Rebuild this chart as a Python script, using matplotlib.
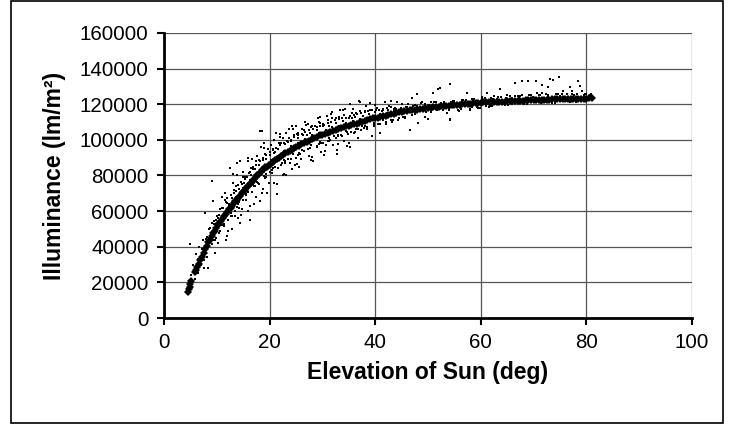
import matplotlib
matplotlib.use("Agg")
import matplotlib.pyplot as plt
from matplotlib.patches import Rectangle

plt.rcParams['font.family'] = ['Liberation Sans', 'DejaVu Sans']

# fitted curve (diamond markers)
curve_x = [4.5, 4.7, 4.9, 5.0, 5.2,
           5.8, 6.0, 6.3, 6.6, 6.9, 7.2, 7.5, 7.8, 8.1, 8.4, 8.7, 9.0, 9.3, 9.6, 9.9,
           10.2, 10.5, 10.8, 11.1, 11.4, 11.7, 12.0, 12.3, 12.6, 12.9, 13.2, 13.5,
           13.8, 14.1, 14.4, 14.7, 15.0, 15.3, 15.6, 15.9, 16.2, 16.5, 16.8, 17.1,
           17.4, 17.7, 18.0, 18.3, 18.6, 18.9, 19.2, 19.5, 19.8,
           20.2, 20.6, 21.0, 21.4, 21.8, 22.2, 22.6, 23.0, 23.4, 23.8, 24.2, 24.6,
           25.0, 25.5, 26.0, 26.5, 27.0, 27.5, 28.0, 28.5, 29.0, 29.5, 30.0, 30.5,
           31.0, 31.5, 32.0, 32.5, 33.0, 33.5, 34.0, 34.5, 35.0, 35.5, 36.0, 36.5,
           37.0, 37.5, 38.0, 38.5, 39.0, 39.5, 40.0, 40.5, 41.0, 41.5, 42.0, 42.5,
           43.0, 43.5, 44.0, 44.5, 45.0, 45.5, 46.0, 46.5, 47.0, 47.5, 48.0, 48.5,
           49.0, 49.5, 50.0, 50.5, 51.0, 51.5, 52.0, 52.5, 53.0, 53.5, 54.0, 54.5,
           55.0, 55.5, 56.0, 56.5, 57.0, 57.5, 58.0, 58.5, 59.0, 59.5, 60.0, 60.5,
           61.0, 61.5, 62.0, 62.5, 63.0, 63.5, 64.0, 64.5, 65.0, 65.5, 66.0, 66.5,
           67.0, 67.5, 68.0, 68.5, 69.0, 69.5, 70.0, 70.5, 71.0, 71.5, 72.0, 72.5,
           73.0, 73.5, 74.0, 74.5, 75.0, 75.5, 76.0, 76.5, 77.0, 77.5, 78.0, 78.5,
           79.0, 79.5, 80.0, 80.5, 81.0]
curve_y = [14500, 16000, 17500, 19000, 20500,
           26000, 27000, 28500, 30500, 32500, 34500, 36500, 38500, 40500, 42500,
           44000, 46000, 47500, 49000, 50500,
           52000, 53500, 54500, 56000, 57000, 58500, 59500, 61000, 62000, 63000,
           64500, 65500, 66500, 67500, 68500, 70000, 71000, 72000, 73000, 74000,
           75000, 76000, 77000, 78000, 79000, 80000, 81000, 82000, 83000, 83500,
           84500, 85000, 86000,
           86500, 87500, 88500, 89000, 90000, 91000, 91500, 92500, 93000, 94000,
           94500, 95500, 96000, 96500, 97500, 98500, 99000, 99500, 100500, 101000,
           101500, 102500, 103000, 103500, 104000, 104500, 105000, 105500, 106000,
           106500, 107000, 107500, 108000, 108500, 109000, 109000, 109500, 110000,
           110500, 111000, 111500, 112000, 112500, 112500, 113000, 113500, 113500,
           114000, 114500, 114500, 115000, 115500, 115500, 116000, 116000, 116500,
           116500, 117000, 117000, 117500, 117500, 118000, 118000, 118000, 118500,
           118500, 118500, 119000, 119000, 119000, 119000, 119500, 119500, 119500,
           119500, 120000, 120000, 120000, 120000, 120500, 120500, 120500, 120500,
           121000, 121000, 121000, 121000, 121500, 121500, 121500, 121500, 121500,
           122000, 122000, 122000, 122000, 122000, 122000, 122000, 122500, 122500,
           122500, 122500, 122500, 122500, 122500, 122500, 122500, 122500, 123000,
           123000, 123000, 123000, 123000, 123000, 123000, 123000, 123000, 123000,
           123000, 123000, 123000, 123000, 123500, 123500]

dot_x = [4.9, 5.2, 5.5, 5.8, 6.1, 6.4, 6.7, 7.0, 7.3, 7.6,
         7.8, 8.1, 8.3, 8.6, 8.9, 9.1, 9.3, 9.6, 9.9, 10.2,
         9.7, 10.4, 10.7, 11.0, 11.3, 11.6, 11.9, 12.1, 12.4, 12.7,
         12.5, 12.9, 13.2, 13.5, 13.8, 14.1, 14.4, 14.4, 14.7, 15.0,
         15.3, 15.6, 15.9, 16.3, 16.3, 16.6, 16.9, 17.2, 17.5, 17.8,
         18.2, 18.2, 18.6, 18.8, 19.1, 19.4, 19.7, 20.0, 20.3, 20.6,
         21.0, 21.4, 21.4, 21.8, 22.2, 22.6, 23.0, 23.4, 23.8, 24.2,
         24.2, 24.6, 25.0, 25.4, 25.8, 26.2, 26.6, 27.0, 27.4, 27.8,
         28.2, 28.6, 29.0, 29.4, 29.8, 30.2, 30.6, 31.0, 31.4, 31.8,
         32.2, 32.8, 33.2, 33.6, 34.0, 34.4, 34.7, 35.2, 35.2, 35.6,
         36.0, 36.4, 36.8, 37.0, 37.1, 37.5, 38.0, 38.5, 39.0, 39.4,
         39.8, 40.3, 40.9, 41.5, 42.0, 42.6, 43.2, 43.8, 44.4, 45.0,
         45.6, 46.2, 46.6, 47.2, 48.0, 48.1, 48.8, 49.4, 50.0, 50.6,
         51.0, 51.9, 52.3, 53.0, 53.6, 54.2, 54.2, 54.2, 55.0, 55.8,
         56.5, 57.4, 58.0, 58.8, 59.5, 60.2, 61.1, 61.8, 62.5, 63.6,
         64.2, 65.0, 65.8, 66.5, 67.0, 67.8, 67.8, 68.5, 69.0, 69.3,
         70.0, 70.4, 70.6, 71.2, 71.6, 71.6, 72.2, 72.7, 73.1, 73.7,
         74.2, 74.8, 75.6, 76.2, 76.9, 77.3, 77.3, 78.0, 78.4, 78.8,
         79.2, 79.6, 80.0, 80.4, 80.8, 69.8, 72.8, 75.0, 66.0, 63.0,
         6.5, 7.2, 8.0, 8.8, 9.5, 10.3, 11.2, 12.0, 12.8, 13.6,
         14.3, 15.1, 15.8, 16.5, 17.3, 18.0, 18.7, 19.4, 20.1, 20.8,
         7.5, 9.0, 10.5, 12.2, 13.9, 15.6, 17.1, 18.9, 20.5, 22.4,
         21.6, 22.9, 24.0, 25.3, 26.4, 27.6, 28.9, 30.1, 31.3, 32.6,
         33.9, 35.0, 36.2, 37.6, 38.8, 40.0, 41.2, 42.4, 43.6, 44.8,
         23.5, 25.6, 27.2, 29.3, 31.0, 33.0, 35.5, 37.8, 40.5, 43.0,
         46.0, 48.0, 50.2, 52.5, 55.0, 57.5, 60.0, 62.4, 64.8, 67.2,
         45.3, 47.5, 49.6, 51.7, 53.9, 56.2, 58.4, 61.0, 63.5, 66.0,
         13.0, 14.9, 16.0, 17.6, 19.0, 20.9, 22.0, 23.2, 25.0, 26.9,
         13.4, 14.8, 17.5, 19.9, 22.8, 24.8, 26.0, 29.7, 32.0, 34.0,
         29.5, 31.6, 33.4, 35.8, 38.3, 39.9, 41.8, 43.0, 44.2, 47.0,
         8.2, 9.4, 10.1, 11.0, 11.8, 12.7, 13.3, 14.0, 14.6, 15.4,
         16.1, 16.8, 17.4, 18.1, 18.7, 19.3, 20.0, 20.7, 21.3, 22.0,
         22.7, 23.3, 24.0, 24.7, 25.4, 26.1, 26.8, 27.5, 28.2, 28.9,
         29.6, 30.3, 31.0, 31.7, 32.4, 33.1, 33.8, 34.5, 35.2, 35.9,
         36.6, 37.3, 38.0, 38.7, 39.4, 40.1, 40.8, 41.5, 42.2, 42.9,
         9.8, 11.4, 12.9, 14.2, 15.5, 16.7, 17.9, 19.1, 20.4, 21.6,
         22.9, 24.1, 25.3, 26.5, 27.7, 28.9, 30.1, 31.3, 32.5, 33.7,
         34.9, 36.1, 37.3, 38.5, 39.7, 40.9, 42.1, 43.3, 44.5, 45.7,
         44.0, 45.8, 47.6, 49.4, 51.2, 53.0, 54.8, 56.6, 58.4, 60.2,
         62.0, 63.8, 65.6, 67.4, 69.2, 71.0, 72.8, 74.6, 76.4, 78.2,
         47.0, 50.5, 52.8, 55.6, 57.9, 59.8, 61.6, 64.6, 68.8, 73.4,
         10.9, 11.7, 13.1, 14.5, 15.9, 17.0, 18.4, 19.6, 21.2, 22.5,
         23.7, 25.2, 26.7, 28.0, 29.1, 30.4, 31.9, 33.0, 34.3, 36.7,
         9.1, 10.6, 12.0, 13.6, 15.0, 16.4, 17.9, 19.2, 20.6, 22.1,
         23.6, 25.1, 26.6, 28.1, 29.6, 31.1, 32.6, 34.1, 35.6, 37.1,
         8.5, 9.8, 11.1, 12.4, 13.7, 15.0, 16.3, 17.6, 18.9, 20.2,
         21.5, 22.8, 24.1, 25.4, 26.7, 28.0, 29.3, 30.6, 31.9, 33.2,
         34.5, 35.8, 37.1, 38.4, 39.7, 41.0, 42.3, 43.6, 44.9, 46.2,
         9.2, 10.9, 12.6, 14.3, 16.0, 17.7, 19.4, 21.1, 22.8, 24.5,
         26.2, 27.9, 29.6, 31.3, 33.0, 34.7, 36.4, 38.1, 39.8, 41.5,
         14.0, 16.2, 18.5, 20.8, 23.1, 25.5, 27.9, 30.3, 32.7, 35.1,
         11.5, 13.9, 16.6, 18.9, 21.9, 24.5, 27.2, 30.8, 33.9, 39.0,
         48.6, 51.6, 54.4, 57.2, 60.8, 63.2, 66.4, 69.6, 72.4, 75.4,
         77.6, 79.8, 80.6, 76.8, 74.0, 71.4, 68.2, 65.2, 62.2, 59.2]
dot_y = [41500, 24000, 30000, 22000, 36000, 25000, 40000, 30000, 44000, 28000,
         59000, 34000, 28000, 50000, 43000, 77000, 65700, 44000, 55000, 42000,
         36500, 58000, 49000, 62000, 53000, 66000, 46000, 48900, 64000, 57000,
         84300, 50000, 70000, 60000, 87000, 64000, 88200, 53400, 75000, 66000,
         78000, 69000, 60100, 55000, 82000, 71000, 85000, 74000, 88000, 76000,
         105000, 65700, 105000, 72500, 92000, 79000, 95000, 82000, 97000, 84000,
         93000, 69700, 75000, 98000, 86000, 101000, 88000, 99000, 87000, 108000,
         83700, 103000, 90000, 104000, 92000, 106000, 94000, 103000, 91000, 107000,
         88000, 108000, 96000, 110000, 98000, 109000, 97000, 111000, 100000, 112000,
         102000, 92000, 113000, 103000, 114000, 105000, 96600, 120000, 96000, 112000,
         104000, 115000, 106000, 122000, 121300, 108000, 116000, 106000, 117000, 102000,
         109000, 118000, 104000, 117000, 109000, 119000, 110000, 118000, 111000, 120000,
         112000, 120000, 105600, 119000, 125800, 109500, 121000, 113000, 111800, 121500,
         126400, 128600, 129000, 121500, 115000, 131500, 111800, 111200, 122000, 116000,
         122500, 126400, 117000, 123000, 118000, 124000, 126400, 119000, 124500, 128600,
         120000, 125000, 120500, 132000, 124500, 133000, 125300, 121000, 133000, 125300,
         121500, 133000, 126400, 125000, 131000, 126400, 121500, 129800, 134000, 133500,
         125500, 135400, 127500, 122000, 129800, 127500, 125800, 121500, 133000, 130300,
         127500, 125000, 126000, 124500, 125500, 124000, 124500, 124500, 123500, 123000,
         33000, 38500, 44500, 50500, 54500, 56000, 62000, 64500, 67500, 71500,
         72500, 76000, 79000, 80500, 83500, 86000, 88500, 89500, 91500, 92500,
         32500, 41500, 47500, 55000, 62500, 69500, 74000, 79500, 83000, 87000,
         95000, 97500, 99500, 101000, 102500, 104000, 105500, 107500, 108000, 109500,
         110500, 112000, 113000, 113500, 114500, 115500, 116000, 116500, 117500, 118000,
         89500, 92500, 95000, 97500, 99500, 102000, 104500, 106500, 109000, 111000,
         118500, 119000, 119500, 120500, 121000, 121500, 122000, 123000, 123500, 123500,
         113000, 114500, 115500, 116500, 117000, 117500, 118500, 119000, 120000, 120000,
         76000, 82000, 88000, 91000, 98000, 100000, 103500, 104000, 107500, 108500,
         57000, 61000, 68000, 76000, 81000, 86000, 89000, 93000, 97000, 99500,
         113000, 114500, 116500, 117500, 119000, 119500, 121000, 122000, 121500, 123500,
         45500, 53000, 57000, 61500, 65000, 69000, 72000, 74500, 76500, 79000,
         81500, 83500, 86000, 88000, 90000, 91500, 93000, 94500, 95500, 97000,
         98000, 99500, 100000, 101500, 102500, 103500, 104500, 105500, 106000, 107000,
         108000, 108500, 109500, 110000, 111000, 111500, 112000, 112500, 113500, 114000,
         114500, 115000, 115500, 116000, 116500, 117000, 117000, 117500, 118000, 118500,
         45000, 51500, 57000, 62000, 66500, 70500, 75000, 78500, 81500, 84000,
         87000, 89500, 91500, 93500, 95500, 96500, 98500, 99500, 101000, 102000,
         103500, 104500, 105500, 107000, 108000, 109000, 110000, 111000, 112000, 113000,
         117500, 118500, 119500, 120000, 121000, 121500, 122000, 122500, 123000, 123000,
         123500, 124000, 124500, 124500, 125000, 125000, 125000, 125500, 125500, 125500,
         114000, 115500, 116500, 117000, 117500, 118000, 118500, 119500, 120000, 120500,
         68000, 44000, 81000, 58000, 90000, 64000, 96000, 70000, 104000, 80000,
         106000, 86500, 110000, 90500, 112500, 94000, 115500, 97500, 117500, 101000,
         53500, 61000, 67500, 74000, 79000, 84000, 88500, 92000, 95000, 98500,
         101000, 103500, 105500, 107500, 109500, 111000, 112500, 114000, 115000, 116000,
         45000, 52500, 58000, 63000, 68000, 73000, 77500, 81500, 85000, 88500,
         91000, 94000, 96500, 98500, 100500, 102500, 104000, 105500, 107000, 108000,
         109500, 110500, 111500, 112500, 113500, 114500, 115000, 116000, 117000, 117500,
         44000, 52000, 59000, 65000, 71000, 76500, 81000, 85000, 88500, 92000,
         94500, 97000, 99000, 101000, 103000, 104500, 106000, 107500, 109500, 111000,
         56000, 63000, 70000, 76000, 80500, 85000, 88500, 91500, 94500, 98000,
         70000, 80000, 89000, 95500, 101500, 106000, 109000, 113500, 117000, 120500,
         120500, 121000, 121500, 122500, 123500, 124000, 124500, 125000, 125500, 125500,
         125000, 125500, 125000, 121000, 120500, 120500, 120000, 119500, 119000, 118500]

x_ticks = [0, 20, 40, 60, 80, 100]
y_ticks = [0, 20000, 40000, 60000, 80000, 100000, 120000, 140000, 160000]

fig = plt.figure(figsize=(7.38, 4.28), dpi=100)
ax = fig.add_axes([0.2222, 0.257, 0.7155, 0.666])

# chart border
fig.patches.append(Rectangle((11 / 738, 5 / 428), 712 / 738, 422 / 428,
                             transform=fig.transFigure, fill=False,
                             edgecolor='black', linewidth=1.2))

ax.plot(dot_x, dot_y, linestyle='none', marker='s', markersize=2.0,
        color='black', markeredgewidth=0, zorder=3)
ax.plot(curve_x, curve_y, linestyle='none', marker='D', markersize=4.4,
        color='black', markeredgewidth=0, zorder=4)

ax.set_xlim(0, 100)
ax.set_ylim(0, 160000)
ax.set_xticks(x_ticks)
ax.set_yticks(y_ticks)
ax.set_yticklabels([str(v) for v in y_ticks])
ax.grid(True, color='#555555', linewidth=0.9)
ax.set_axisbelow(True)

for s in ['top', 'right']:
    ax.spines[s].set_visible(False)
for s in ['left', 'bottom']:
    ax.spines[s].set_linewidth(2)
    ax.spines[s].set_zorder(5)

ax.tick_params(axis='both', direction='out', length=5, width=1.5,
               labelsize=14.8, colors='black')
ax.tick_params(axis='x', pad=6)
ax.tick_params(axis='y', pad=6)

ax.set_xlabel('Elevation of Sun (deg)', fontsize=16.5, fontweight='bold', labelpad=6)
ax.set_ylabel('Illuminance (lm/m²)', fontsize=16.5, fontweight='bold')
ax.yaxis.set_label_coords(-0.185, 0.5)

fig.savefig('out.png', dpi=100)
